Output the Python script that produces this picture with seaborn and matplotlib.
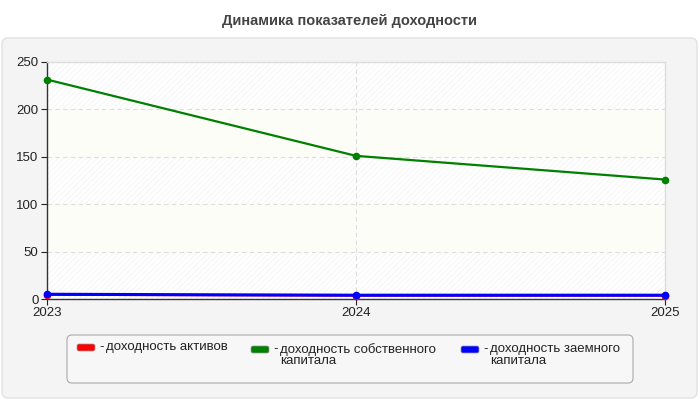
import matplotlib.pyplot as plt
import numpy as np
import pandas as pd
import seaborn as sns
from matplotlib.patches import FancyBboxPatch, Rectangle

years = [2023, 2024, 2025]
series_names = [
    "доходность активов",
    "доходность собственного\nкапитала",
    "доходность заемного\nкапитала",
]
series_colors = ["#ff0000", "#008000", "#0000ff"]
roa = [4.5, 3.6, 3.6]
roe = [231.5, 151.0, 126.0]
rod = [5.0, 4.0, 4.0]
title = "Динамика показателей доходности"

df = pd.DataFrame({
    "year": years * 3,
    "value": roa + roe + rod,
    "series": [series_names[0]] * 3 + [series_names[1]] * 3 + [series_names[2]] * 3,
})

sns.set_style("white")
plt.rcParams["font.family"] = ["Liberation Sans", "DejaVu Sans"]
plt.rcParams["hatch.linewidth"] = 0.4

fig = plt.figure(figsize=(7, 4), dpi=100)
fig.patch.set_facecolor("white")

# outer panel
panel = FancyBboxPatch((0.02, 0.02), 6.95, 3.6, boxstyle="round,pad=0,rounding_size=0.06",
                       transform=fig.dpi_scale_trans, facecolor="#f4f4f4",
                       edgecolor="#e2e2e2", lw=1, zorder=-5)
fig.patches.append(panel)

fig.text(0.5, 0.948, title, ha="center", va="center", fontsize=10.5,
         fontweight="bold", color="#444444")

ax = fig.add_axes([0.067, 0.2525, 0.883, 0.5925])
ax.set_facecolor("white")
ax.add_patch(Rectangle((0, 0), 1, 1, transform=ax.transAxes, facecolor="white",
                       edgecolor="#efefef", hatch="//////", lw=0, zorder=0))
for lo in (50, 150):
    ax.axhspan(lo, lo + 50, color="#fdfdf8", zorder=0.5, lw=0)
for y in (50, 100, 150, 200):
    ax.axhline(y, color="#dddddd", ls=(0, (4, 3)), lw=0.8, zorder=1)
ax.axvline(2024, color="#dddddd", ls=(0, (4, 3)), lw=0.8, zorder=1)

sns.lineplot(data=df, x="year", y="value", hue="series", palette=series_colors,
             marker="o", markersize=5.5, markeredgewidth=0, linewidth=1.6,
             legend=False, ax=ax, zorder=3)
for line in ax.lines[-3:]:
    line.set_clip_on(False)
ax.lines[-1].set_linewidth(2.2)

ax.set_xlim(2023, 2025)
ax.set_ylim(0, 250)
ax.set_xticks(years)
ax.set_xticklabels([str(y) for y in years])
ax.set_yticks([0, 50, 100, 150, 200, 250])
ax.set_xlabel("")
ax.set_ylabel("")
ax.tick_params(axis="both", labelsize=9.5, colors="#222222", length=4, width=0.8,
               direction="out", pad=2, bottom=True, left=True)
for side in ("left", "bottom"):
    ax.spines[side].set_color("#333333")
    ax.spines[side].set_linewidth(1)
for side in ("top", "right"):
    ax.spines[side].set_color("#dddddd")
    ax.spines[side].set_linewidth(1)

# legend box
leg = FancyBboxPatch((0.67, 0.17), 5.66, 0.48, boxstyle="round,pad=0,rounding_size=0.05",
                     transform=fig.dpi_scale_trans, facecolor="#f7f7f7",
                     edgecolor="#aaaaaa", lw=0.8, zorder=1)
fig.patches.append(leg)
sw_x = [0.77, 2.51, 4.61]
sw_top = [3.44, 3.46, 3.46]
for x0, top, name, col in zip(sw_x, sw_top, series_names, series_colors):
    y_sw = 4 - top - 0.07
    fig.patches.append(FancyBboxPatch((x0, y_sw), 0.18, 0.07,
                                      boxstyle="round,pad=0,rounding_size=0.02",
                                      transform=fig.dpi_scale_trans, facecolor=col,
                                      edgecolor="#999999", lw=0.5, zorder=2))
    y_txt = (4 - top + 0.03) / 4
    fig.text((x0 + 0.22) / 7, y_txt, "-", ha="left", va="top", fontsize=9.5,
             color="#222222")
    fig.text((x0 + 0.29) / 7, y_txt, name, ha="left", va="top", fontsize=9.5,
             color="#222222", linespacing=0.95)

fig.savefig("out.png", dpi=100)
